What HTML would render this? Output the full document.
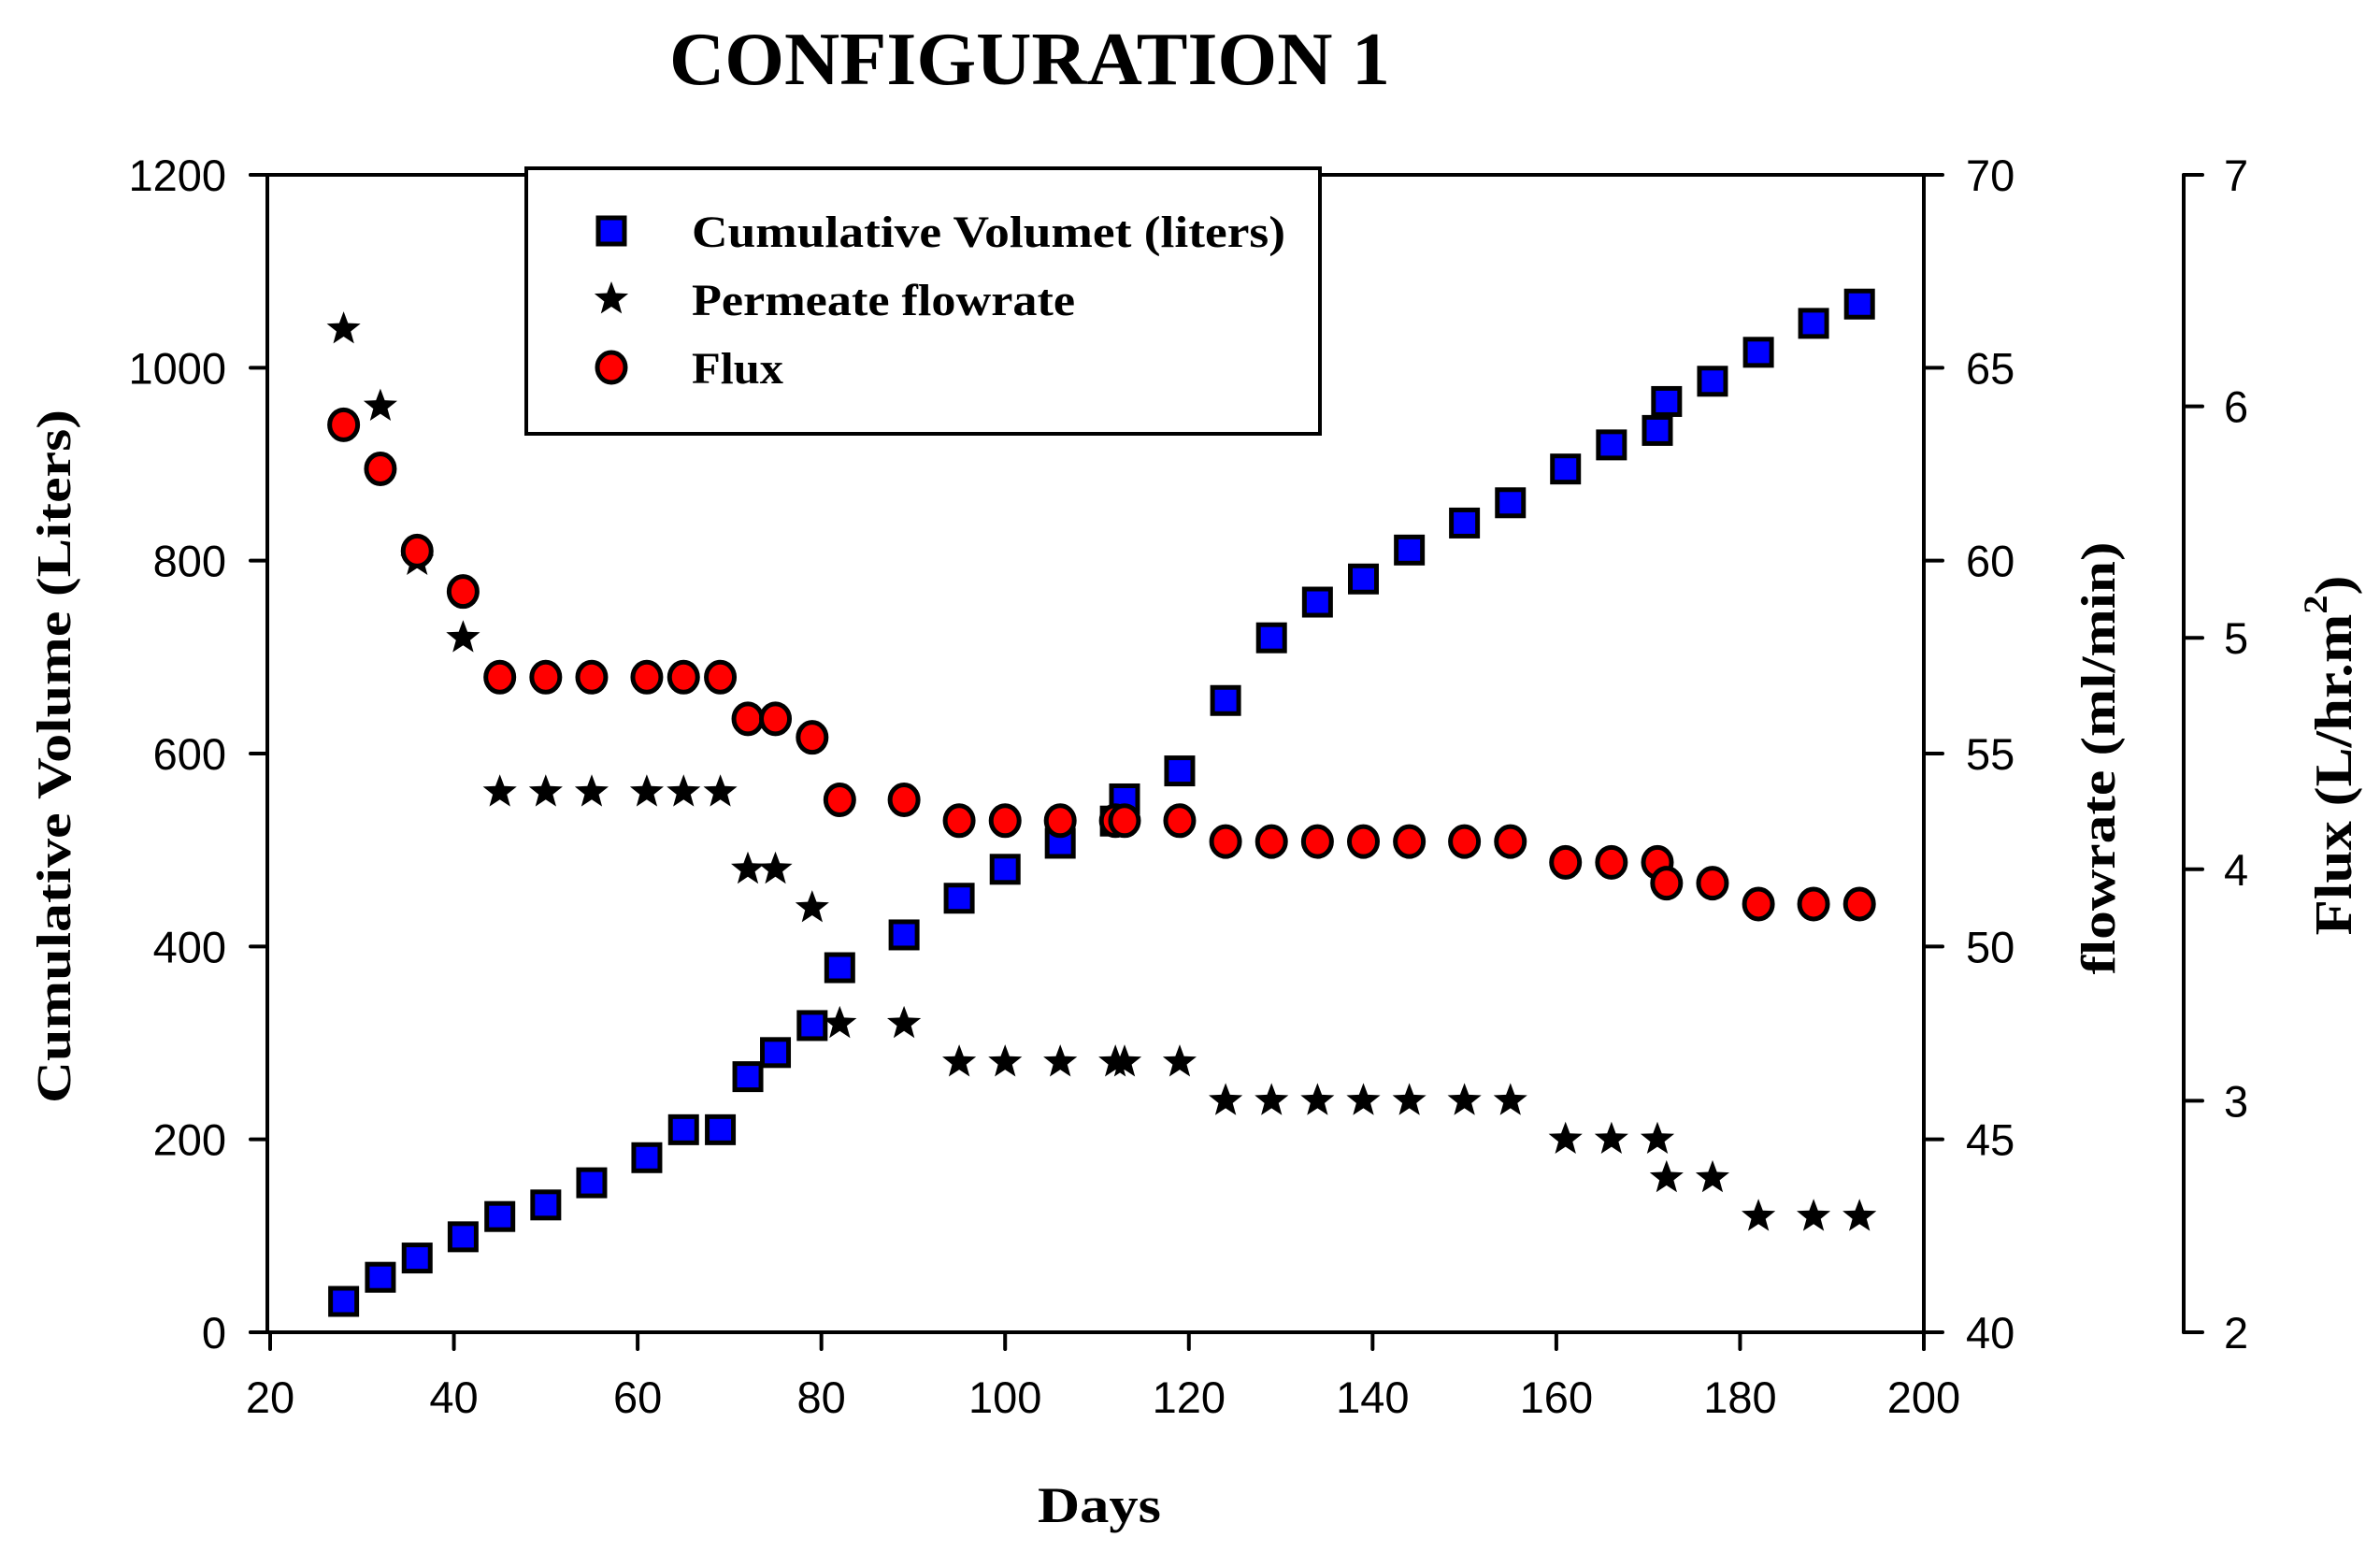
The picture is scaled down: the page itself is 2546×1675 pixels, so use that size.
<!DOCTYPE html>
<html><head><meta charset="utf-8"><style>html,body{margin:0;padding:0;background:#fff;}svg{display:block}</style></head>
<body>
<svg id="chart" xmlns="http://www.w3.org/2000/svg" width="2546" height="1675" viewBox="0 0 2546 1675">
<rect width="2546" height="1675" fill="#fff"/>
<text x="716" y="90" font-family="'Liberation Serif',serif" font-weight="bold" font-size="80" textLength="771" lengthAdjust="spacingAndGlyphs">CONFIGURATION 1</text>
<g id="axes"></g>
<g id="marks"></g>
<g id="legend">
<rect x="563" y="180" width="849" height="284" fill="#fff" stroke="#000" stroke-width="4"/>
</g>
<text transform="translate(75,809) rotate(-90)" text-anchor="middle" font-family="'Liberation Serif',serif" font-weight="bold" font-size="52" textLength="742" lengthAdjust="spacingAndGlyphs">Cumulative Volume (Liters)</text>
<text transform="translate(2262,811) rotate(-90)" text-anchor="middle" font-family="'Liberation Serif',serif" font-weight="bold" font-size="52" textLength="463" lengthAdjust="spacingAndGlyphs">flowrate (ml/min)</text>
<text transform="translate(2515,808) rotate(-90)" text-anchor="middle" font-family="'Liberation Serif',serif" font-weight="bold" font-size="56" textLength="385" lengthAdjust="spacingAndGlyphs">Flux  (L/hr.m<tspan font-size="36" dy="-26">2</tspan><tspan dy="26">)</tspan></text>
<text x="1176" y="1628" text-anchor="middle" font-family="'Liberation Serif',serif" font-weight="bold" font-size="54" textLength="132" lengthAdjust="spacingAndGlyphs">Days</text>
</svg>
<script>
const days=[28,32,36,41,45,50,55,61,65,69,72,75,79,82,89,95,100,106,112,113,119,124,129,134,139,144,150,155,161,166,171,172,177,182,188,193];
const volume=[32,57,77,99,120,132,155,181,210,210,265,290,318,378,412,450,480,507,530,553,582,655,720,757,781,811,839,860,895,920,935,965,986,1016,1046,1066];
const flowrate=[66,64,60,58,54,54,54,54,54,54,52,52,51,48,48,47,47,47,47,47,47,46,46,46,46,46,46,46,45,45,45,44,44,43,43,43];
const flux=[5.92,5.73,5.375,5.2,4.83,4.83,4.83,4.83,4.83,4.83,4.65,4.65,4.57,4.3,4.3,4.21,4.21,4.21,4.21,4.21,4.21,4.12,4.12,4.12,4.12,4.12,4.12,4.12,4.03,4.03,4.03,3.94,3.94,3.85,3.85,3.85];
const xTicks=[20,40,60,80,100,120,140,160,180,200];
const yTicks=[0,200,400,600,800,1000,1200];
const fTicks=[40,45,50,55,60,65,70];
const fxTicks=[2,3,4,5,6,7];
const legendLabels=["Cumulative Volumet (liters)","Permeate flowrate","Flux"];

const NS="http://www.w3.org/2000/svg";
const X0=289,X1=2058,YT=187,YB=1425,LX=286,RX=2058,FX=2336;
const sx=d=>X0+(d-20)/180*(X1-X0);
const sy=v=>YB-v/1200*(YB-YT);
const sf=v=>YB-(v-40)/30*(YB-YT);
const sflux=v=>YB-(v-2)/5*(YB-YT);
function mk(tag,attrs,parent){const e=document.createElementNS(NS,tag);for(const k in attrs)e.setAttribute(k,attrs[k]);parent.appendChild(e);return e;}
const axes=document.getElementById('axes'),marks=document.getElementById('marks'),legend=document.getElementById('legend');
const ln={stroke:"#000","stroke-width":4,"stroke-linecap":"round"};
function line(x1,y1,x2,y2,name){const e=mk('line',Object.assign({x1,y1,x2,y2},ln),axes);

}
function txt(x,y,s,anchor,name,parent){const e=mk('text',{x,y,'text-anchor':anchor,'font-family':"'Liberation Sans',sans-serif",'font-size':47},parent||axes);e.textContent=s;

}
line(LX,YT,LX,YB,'y-axis-line');
line(268,YB,RX,YB,'x-axis-line');
line(268,YT,RX,YT,'top-axis-line');
line(RX,YT,RX,YB+18,'flowrate-axis-line');
line(FX,YT,FX,YB,'flux-axis-line');
xTicks.forEach(t=>{line(sx(t),YB,sx(t),YB+18,'x-tick');txt(sx(t),1511,String(t),'middle','x-tick-label');});
yTicks.forEach(t=>{line(268,sy(t),LX,sy(t),'y-tick');txt(242,sy(t)+17,String(t),'end','y-tick-label');});
fTicks.forEach(t=>{line(RX,sf(t),RX+20,sf(t),'flowrate-tick');txt(2103,sf(t)+17,String(t),'start','flowrate-tick-label');});
fxTicks.forEach(t=>{line(FX,sflux(t),FX+20,sflux(t),'flux-tick');txt(2379,sflux(t)+17,String(t),'start','flux-tick-label');});

function starPath(cx,cy,R){const r=R*0.42;let p='';for(let i=0;i<10;i++){const a=-Math.PI/2+i*Math.PI/5;const rr=i%2?r:R;p+=(i?'L':'M')+(cx+rr*Math.cos(a)).toFixed(1)+' '+(cy+rr*Math.sin(a)).toFixed(1);}return p+'Z';}
function square(cx,cy,parent){return mk('rect',{x:cx-14,y:cy-14,width:28,height:28,fill:'#0000ff',stroke:'#000','stroke-width':5},parent);}
function star(cx,cy,parent){return mk('path',{d:starPath(cx,cy,19),fill:'#000'},parent);}
function circ(cx,cy,parent){return mk('ellipse',{cx,cy,rx:15,ry:16,fill:'#ff0000',stroke:'#000','stroke-width':5},parent);}

days.forEach((d,i)=>{const e=star(sx(d),sf(flowrate[i]),marks);

});
days.forEach((d,i)=>{const e=square(sx(d),sy(volume[i]),marks);

});
days.forEach((d,i)=>{const e=circ(sx(d),sflux(flux[i]),marks);

});

const ly=[247,320,393];
let e=square(654,ly[0],legend);


e=star(654,ly[1],legend);


e=circ(654,ly[2],legend);


const lw=[635,410,98];
legendLabels.forEach((s,i)=>{const t=mk('text',{x:740,y:ly[i]+17,'font-family':"'Liberation Serif',serif",'font-weight':'bold','font-size':48,textLength:lw[i],lengthAdjust:'spacingAndGlyphs'},legend);t.textContent=s;

});
</script>
</body></html>
